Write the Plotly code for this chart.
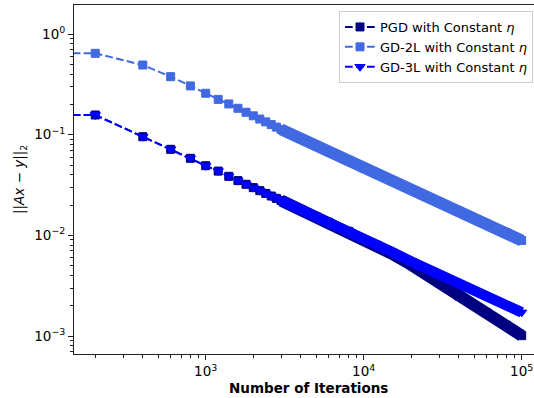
import plotly.graph_objects as go

# Residual norm ||Ax - y||_2 recorded along the iterations
iterations = [1, 200, 400, 600, 800, 1000, 1200, 1400, 1600, 1800, 2000,
              2200, 2400, 2600, 2800, 3000, 4000, 5000, 6000, 8000, 10000,
              12000, 15000, 20000, 30000, 40000, 60000, 80000, 100000]

pgd = [0.157, 0.157, 0.0955, 0.0716, 0.0583, 0.0492, 0.0435, 0.0386, 0.0350,
       0.0322, 0.0298, 0.0278, 0.0261, 0.0246, 0.0233, 0.0222, 0.0181, 0.0154,
       0.0135, 0.0110, 0.0091, 0.0080, 0.0066, 0.0051, 0.0034, 0.0025,
       0.00170, 0.00128, 0.00101]

gd_2l = [0.643, 0.643, 0.492, 0.377, 0.305, 0.258, 0.224, 0.202, 0.183,
         0.167, 0.154, 0.143, 0.134, 0.126, 0.119, 0.113, 0.0915, 0.0778,
         0.0680, 0.0550, 0.0467, 0.0411, 0.0350, 0.0285, 0.0213, 0.0174,
         0.0130, 0.0106, 0.0089]

gd_3l = [0.157, 0.157, 0.0955, 0.0716, 0.0583, 0.0492, 0.0435, 0.0386, 0.0350,
         0.0322, 0.0298, 0.0278, 0.0261, 0.0246, 0.0233, 0.0222, 0.0182, 0.0155,
         0.0136, 0.0112, 0.0093, 0.0082, 0.0069, 0.0055, 0.0041, 0.0033,
         0.00245, 0.00200, 0.00172]

series_names = ["PGD with Constant <i>η</i>",
                "GD-2L with Constant <i>η</i>",
                "GD-3L with Constant <i>η</i>"]
series_values = [pgd, gd_2l, gd_3l]
colors = ["#000080", "#4169E1", "#0000FF"]
symbols = ["square", "square", "triangle-down"]
marker_sizes = [8, 8, 9]
band_widths = [12, 12, 10.5]

x_tick_vals = [1e3, 1e4, 1e5]
x_tick_text = ["10<sup>3</sup>", "10<sup>4</sup>", "10<sup>5</sup>"]
y_tick_vals = [1e0, 1e-1, 1e-2, 1e-3]
y_tick_text = ["10<sup>0</sup>", "10<sup>−1</sup>", "10<sup>−2</sup>", "10<sup>−3</sup>"]

minor_x = [m * 10 ** e for e in (2, 3, 4) for m in range(2, 10)]
minor_y = [m * 10 ** e for e in (-4, -3, -2, -1) for m in range(2, 10)]

FONT = "DejaVu Sans"
W, H = 534, 398
ML, MR, MT, MB = 74, 0, 5, 44
BAND_START = 3000  # beyond this the markers merge into a solid band

fig = go.Figure()
for name, vals, col, sym, ms, bw in zip(series_names, series_values, colors,
                                        symbols, marker_sizes, band_widths):
    bx = [x for x in iterations if x >= BAND_START]
    by = [v for x, v in zip(iterations, vals) if x >= BAND_START]
    fig.add_trace(go.Scatter(
        x=bx, y=by, mode="lines",
        line=dict(color=col, width=bw),
        showlegend=False, hoverinfo="skip"))
    fig.add_trace(go.Scatter(
        x=iterations, y=vals, name=name, mode="lines+markers",
        line=dict(color=col, width=2, dash="7.7px,3.3px"),
        marker=dict(symbol=sym, size=ms, color=col,
                    line=dict(color=col, width=1))))

axis_common = dict(
    type="log", showgrid=False, zeroline=False, automargin=False,
    showline=True, linecolor="#222222", linewidth=1,
    ticks="outside", ticklen=5, tickwidth=1.1, tickcolor="#222222",
    tickfont=dict(family=FONT, size=13.5, color="black"),
)

fig.update_xaxes(
    range=[2.1665, 5.078], mirror=True,
    tickmode="array", tickvals=x_tick_vals, ticktext=x_tick_text,
    minor=dict(ticks="outside", ticklen=3, tickwidth=0.8, tickcolor="#222222",
               tickmode="array", tickvals=minor_x, showgrid=False),
    **axis_common)
fig.update_yaxes(
    range=[-3.178, 0.288],
    tickmode="array", tickvals=y_tick_vals, ticktext=y_tick_text,
    minor=dict(ticks="outside", ticklen=3, tickwidth=0.8, tickcolor="#222222",
               tickmode="array", tickvals=minor_y, showgrid=False),
    **axis_common)

pw, ph = W - ML - MR, H - MT - MB
fig.add_annotation(
    text="<b>Number of Iterations</b>", xref="paper", yref="paper",
    x=(308.5 - ML) / pw, y=(H - MB - 388) / ph, showarrow=False,
    xanchor="center", yanchor="middle",
    font=dict(family=FONT, size=13.5, color="black"))
fig.add_annotation(
    text="||<i>Ax</i> − <i>y</i>||<sub>2</sub>", xref="paper", yref="paper",
    x=(20 - ML) / pw, y=(H - MB - 180) / ph, showarrow=False, textangle=-90,
    xanchor="center", yanchor="middle",
    font=dict(family=FONT, size=13.5, color="black"))

fig.update_layout(
    width=W, height=H,
    margin=dict(l=ML, r=MR, t=MT, b=MB, autoexpand=False),
    paper_bgcolor="white", plot_bgcolor="white",
    font=dict(family=FONT, color="black"),
    legend=dict(
        x=(339 - ML) / pw, y=1 - (11 - MT) / ph, xanchor="left", yanchor="top",
        bgcolor="rgba(255,255,255,0.8)", bordercolor="#cccccc", borderwidth=1,
        font=dict(family=FONT, size=13, color="black"), itemwidth=30,
        tracegroupgap=0),
)

fig.write_html("out.html", config={"displayModeBar": False})
